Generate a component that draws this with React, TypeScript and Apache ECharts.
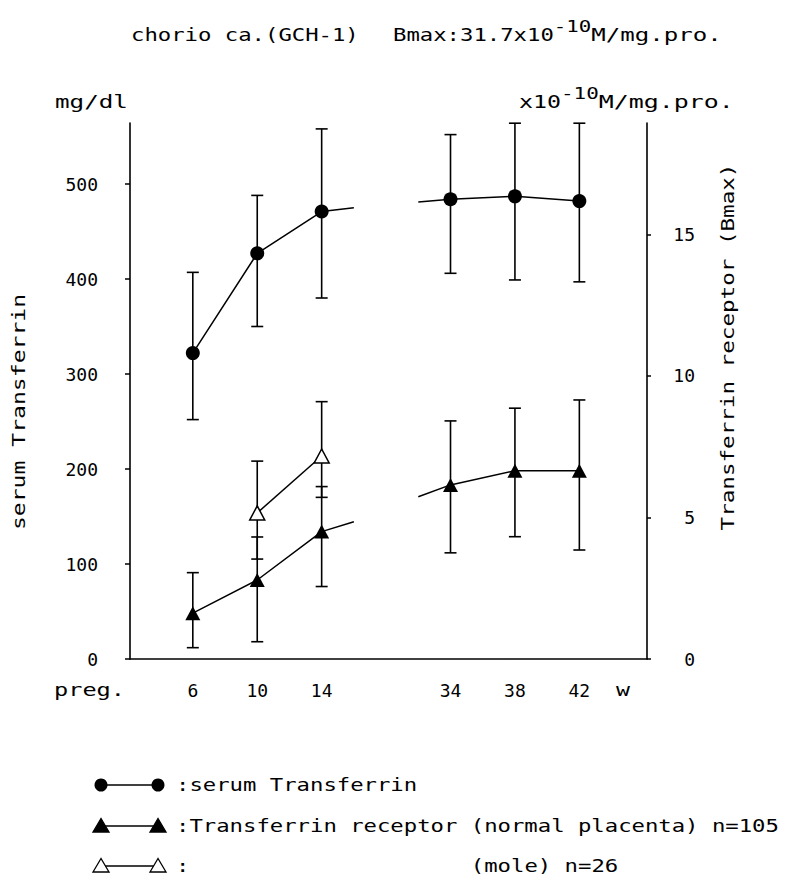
import React, { useEffect, useRef } from "react";
import * as echarts from "echarts";

// ---- data ----
const weeks = [6, 10, 14, 34, 38, 42];
const weekLabels = ["6", "10", "14", "34", "38", "42"];
const serumMean = [322, 427, 471, 484, 487, 482];
const serumHigh = [407, 488, 558, 552, 564, 564];
const serumLow = [252, 350, 380, 406, 399, 397];
const receptorMean = [1.62, 2.79, 4.5, 6.15, 6.65, 6.65];
const receptorHigh = [3.05, 4.31, 6.09, 8.41, 8.86, 9.15];
const receptorLow = [0.4, 0.61, 2.56, 3.75, 4.32, 3.85];
const moleWeeks = [10, 14];
const moleMean = [5.16, 7.17];
const moleHigh = [6.99, 9.09];
const moleLow = [3.53, 5.71];
// the lines run a short way into the axis break
const breakWeeks = [16, 32];
const serumBreak = [475, 481];
const receptorBreak = [4.85, 5.73];
const leftTicks = [0, 100, 200, 300, 400, 500];
const rightTicks = [0, 5, 10, 15];

// broken week axis: weeks 16..32 are drawn as 4 weeks
const toAxis = (w: number) => (w <= 16 ? w - 2 : w - 14);

const FAMILY = '"DejaVu Sans Mono", monospace';
const FS = 18;
const font = (s: number) => `${s}px ${FAMILY}`;

let measureCtx: CanvasRenderingContext2D | null = null;
function advance(s: number) {
  if (!measureCtx) measureCtx = document.createElement("canvas").getContext("2d");
  measureCtx!.font = font(s);
  return measureCtx!.measureText("0000000000").width / 10;
}

// typewriter-like pitch: stretch monospace glyphs so each cell is `pitch` px wide
type Part = { text: string; size: number; dy: number; pitch: number; x?: number };
function textRun(x: number, y: number, parts: Part[]) {
  const out: any[] = [];
  let cx = x;
  for (const p of parts) {
    if (p.x !== undefined) cx = p.x;
    const sx = p.pitch / advance(p.size);
    out.push({
      type: "text",
      x: cx,
      y: y + p.dy,
      scaleX: sx,
      style: { text: p.text, font: font(p.size), fill: "#000", textAlign: "left", textVerticalAlign: "middle" },
    });
    cx += p.pitch * p.text.length;
  }
  return out;
}

function errorSeries(xs: number[], lows: number[], highs: number[], yAxisIndex: number) {
  return {
    type: "custom",
    yAxisIndex,
    z: 2,
    data: xs.map((w, i) => [toAxis(w), lows[i], highs[i]]),
    encode: { x: 0, y: [1, 2] },
    renderItem: (_params: any, api: any) => {
      const x = api.value(0);
      const pHi = api.coord([x, api.value(2)]);
      const pLo = api.coord([x, api.value(1)]);
      const cw = 6;
      const st = { stroke: "#000", lineWidth: 1.6 };
      return {
        type: "group",
        children: [
          { type: "line", shape: { x1: pHi[0], y1: pHi[1], x2: pLo[0], y2: pLo[1] }, style: st },
          { type: "line", shape: { x1: pHi[0] - cw, y1: pHi[1], x2: pHi[0] + cw, y2: pHi[1] }, style: st },
          { type: "line", shape: { x1: pLo[0] - cw, y1: pLo[1], x2: pLo[0] + cw, y2: pLo[1] }, style: st },
        ],
      };
    },
  };
}

function lineSeries(
  xs: number[],
  ys: number[],
  yAxisIndex: number,
  symbol: string,
  size: any,
  fill: string,
  stubBefore?: [number, number],
  stubAfter?: [number, number]
) {
  const data: any[] = [];
  if (stubBefore) data.push({ value: [toAxis(stubBefore[0]), stubBefore[1]], symbol: "none" });
  xs.forEach((w, i) => data.push([toAxis(w), ys[i]]));
  if (stubAfter) data.push({ value: [toAxis(stubAfter[0]), stubAfter[1]], symbol: "none" });
  return {
    type: "line",
    yAxisIndex,
    z: 3,
    data,
    symbol,
    symbolSize: size,
    showSymbol: true,
    lineStyle: { color: "#000", width: 1.5 },
    itemStyle: { color: fill, borderColor: "#000", borderWidth: fill === "#000" ? 0 : 1.5 },
  };
}

export default function App() {
  const ref = useRef<HTMLDivElement>(null);
  useEffect(() => {
    if (!ref.current) return;
    const chart = echarts.init(ref.current, null, { renderer: "svg" });

    const gridTop = 123;
    const gridBottomY = 659;
    const h = gridBottomY - gridTop;
    const leftMax = h / 0.95;
    const rightMax = h / 28.31;

    const early = (arr: number[]) => arr.slice(0, 3);
    const late = (arr: number[]) => arr.slice(3);

    // legend symbols
    const legendX1 = 101;
    const legendX2 = 158;
    const rows = [785, 826, 866];
    const tri = (x: number, y: number) => [
      [x, y - 7.5],
      [x - 8, y + 6],
      [x + 8, y + 6],
    ];
    const legend: any[] = [];
    rows.forEach((y, r) => {
      legend.push({ type: "line", shape: { x1: legendX1, y1: y, x2: legendX2, y2: y }, style: { stroke: "#000", lineWidth: 1.5 } });
      [legendX1, legendX2].forEach((x) => {
        if (r === 0) legend.push({ type: "circle", shape: { cx: x, cy: y, r: 6.5 }, style: { fill: "#000" } });
        else
          legend.push({
            type: "polygon",
            shape: { points: tri(x, y) },
            style: { fill: r === 1 ? "#000" : "#fff", stroke: "#000", lineWidth: 1.3 },
          });
      });
    });

    const rotated = (text: string, x: number, y: number, pitch: number) => ({
      type: "text",
      x,
      y,
      rotation: Math.PI / 2,
      scaleX: pitch / advance(FS),
      style: { text, font: font(FS), fill: "#000", textAlign: "center", textVerticalAlign: "middle" },
    });

    const P = 13.4;
    const graphics: any[] = [
      ...textRun(131, 35, [
        { text: "chorio ca.(GCH-1)", size: FS, dy: 0, pitch: P },
        { text: "Bmax:31.7x10", size: FS, dy: 0, pitch: P, x: 393 },
        { text: "-10", size: 16, dy: -9, pitch: 12.5 },
        { text: "M/mg.pro.", size: FS, dy: 0, pitch: 14.5 },
      ]),
      ...textRun(55, 102, [{ text: "mg/dl", size: FS, dy: 0, pitch: 14.6 }]),
      ...textRun(519, 102, [
        { text: "x10", size: FS, dy: 0, pitch: 14 },
        { text: "-10", size: 16, dy: -9, pitch: 12.6 },
        { text: "M/mg.pro.", size: FS, dy: 0, pitch: 15 },
      ]),
      ...textRun(54, 690, [{ text: "preg.", size: FS, dy: 0, pitch: 14.2 }]),
      ...textRun(616, 690, [{ text: "w", size: FS, dy: 0, pitch: 14 }]),
      rotated("serum Transferrin", 19, 412, 13.9),
      rotated("Transferrin receptor (Bmax)", 728, 347, 13.6),
      ...legend,
      ...textRun(176, rows[0], [{ text: ":serum Transferrin", size: FS, dy: 0, pitch: P }]),
      ...textRun(176, rows[1], [{ text: ":Transferrin receptor (normal placenta) n=105", size: FS, dy: 0, pitch: P }]),
      ...textRun(176, rows[2], [
        { text: ":", size: FS, dy: 0, pitch: P },
        { text: "(mole) n=26", size: FS, dy: 0, pitch: P, x: 176 + 22 * P },
      ]),
    ];

    const axisLine = { show: true, lineStyle: { color: "#000", width: 1.6 } };
    const labelStyle = { color: "#000", fontSize: FS, fontFamily: FAMILY };

    chart.setOption({
      animation: false,
      backgroundColor: "#fff",
      textStyle: { fontFamily: FAMILY },
      grid: { left: 130, right: 139, top: gridTop, bottom: 879 - gridBottomY, containLabel: false },
      xAxis: {
        type: "value",
        min: 0.1,
        max: 32.2,
        axisLine,
        axisTick: { show: false },
        splitLine: { show: false },
        axisLabel: {
          ...labelStyle,
          customValues: weeks.map(toAxis),
          formatter: (v: number) => {
            const i = weeks.findIndex((w) => toAxis(w) === v);
            return i >= 0 ? weekLabels[i] : "";
          },
          margin: 22,
        },
      },
      yAxis: [
        {
          type: "value",
          position: "left",
          min: 0,
          max: leftMax,
          axisLine,
          splitLine: { show: false },
          axisTick: { show: true, customValues: leftTicks, length: 5, lineStyle: { color: "#000", width: 1.5 } },
          axisLabel: { ...labelStyle, customValues: leftTicks, margin: 32 },
        },
        {
          type: "value",
          position: "right",
          min: 0,
          max: rightMax,
          axisLine,
          splitLine: { show: false },
          axisTick: { show: true, customValues: rightTicks, length: 4, lineStyle: { color: "#000", width: 1.5 } },
          axisLabel: { ...labelStyle, customValues: rightTicks, margin: 48, align: "right" },
        },
      ],
      series: [
        errorSeries(weeks, serumLow, serumHigh, 0),
        errorSeries(weeks, receptorLow, receptorHigh, 1),
        errorSeries(moleWeeks, moleLow, moleHigh, 1),
        lineSeries(early(weeks), early(serumMean), 0, "circle", 14, "#000", undefined, [breakWeeks[0], serumBreak[0]]),
        lineSeries(late(weeks), late(serumMean), 0, "circle", 14, "#000", [breakWeeks[1], serumBreak[1]]),
        lineSeries(early(weeks), early(receptorMean), 1, "triangle", [15, 14], "#000", undefined, [breakWeeks[0], receptorBreak[0]]),
        lineSeries(late(weeks), late(receptorMean), 1, "triangle", [15, 14], "#000", [breakWeeks[1], receptorBreak[1]]),
        lineSeries(moleWeeks, moleMean, 1, "triangle", [15, 14], "#fff"),
      ],
      graphic: graphics,
    });

    return () => chart.dispose();
  }, []);

  return <div ref={ref} style={{ position: "fixed", left: 0, top: 0, width: 786, height: 879, background: "#fff" }} />;
}
